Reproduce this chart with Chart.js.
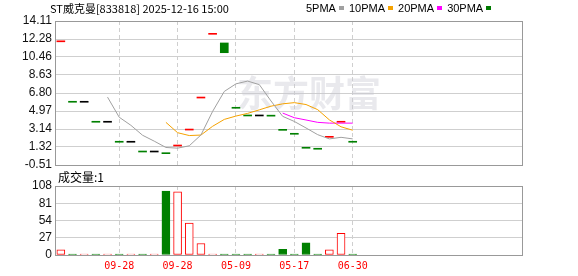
<!DOCTYPE html>
<html>
<head>
<meta charset="utf-8">
<script src="https://cdn.jsdelivr.net/npm/chart.js@4/dist/chart.umd.min.js"></script>
<style>
html, body { margin: 0; padding: 0; background: #fff; }
#wrap { position: relative; width: 578px; height: 276px; overflow: hidden; }
#wrap canvas { position: absolute; left: 0; top: 0; }
.txt { position: absolute; white-space: nowrap; font-family: "Liberation Sans Narrow", "Noto Sans CJK SC", sans-serif; font-size: 11px; line-height: 16px; color: #000; }
#legend { position: absolute; left: 306px; top: 0; display: flex; align-items: center; height: 16px; }
#legend .item { display: flex; align-items: center; margin-right: 5px; font-family: "Liberation Sans Narrow", sans-serif; font-size: 11px; }
#legend .sw { display: inline-block; width: 5px; height: 4px; margin-left: 3px; }
</style>
</head>
<body>
<div id="wrap">
  <canvas id="price" width="578" height="276"></canvas>
  <canvas id="vol" width="578" height="276"></canvas>
  <div class="txt" style="left:50px; top:0px;">ST威克曼[833818] 2025-12-16 15:00</div>
  <div id="legend"></div>
  <div class="txt" style="left:58px; top:169px; font-family:'Noto Sans CJK SC',sans-serif; font-size:12px;">成交量:1</div>
</div>
<script>
// 40 slots on the x axis, 26 trading days drawn
const xSlots = Array.from({length: 40}, (_, i) => String(i));

const opens  = [12.10, 5.96, 5.96, 3.93, 3.93, 1.90, 1.90, 0.91, 0.91, 0.74, 1.52, 3.14, 6.39, 12.86, 11.88, 5.35, 4.57, 4.57, 4.55, 3.11, 2.71, 1.29, 1.19, 2.40, 3.93, 1.90];
const closes = [12.10, 5.96, 5.96, 3.93, 3.93, 1.90, 1.90, 0.91, 0.91, 0.74, 1.52, 3.14, 6.39, 12.86, 10.89, 5.35, 4.57, 4.57, 4.55, 3.11, 2.71, 1.29, 1.19, 2.40, 3.93, 1.90];
const volumes = [8, 1, 1, 1, 1, 1, 1, 1, 1, 100, 99, 50, 18, 1, 1, 1, 1, 1, 1, 9, 1, 19, 1, 8, 34, 1];

const ma5  = [null, null, null, null, 6.38, 4.34, 3.52, 2.51, 1.91, 1.27, 1.20, 1.44, 2.54, 4.93, 6.96, 7.73, 8.01, 7.65, 5.99, 4.43, 3.91, 3.25, 2.57, 2.14, 2.30, 2.14];
const ma10 = [null, null, null, null, null, null, null, null, null, 3.82, 2.77, 2.48, 2.53, 3.42, 4.12, 4.46, 4.73, 5.09, 5.46, 5.70, 5.82, 5.63, 5.11, 4.07, 3.37, 3.02];
const ma20 = [null, null, null, null, null, null, null, null, null, null, null, null, null, null, null, null, null, null, null, 4.76, 4.29, 4.06, 3.82, 3.74, 3.74, 3.74];

const priceTicks = [-0.51, 1.32, 3.14, 4.97, 6.80, 8.63, 10.46, 12.28, 14.11];
const volTicks = [0, 27, 54, 81, 108];
const dateTickIndex = [5, 10, 15, 20, 25];
const dateTickText = ['09-28', '09-28', '05-09', '05-17', '06-30'];

const legendNames = ['5PMA', '10PMA', '20PMA', '30PMA'];
const legendColors = ['#a0a0a0', '#f5a200', '#ff00ff', '#007a00'];

const RED = '#ff0000';
const GREEN = '#008000';

// candle colour: up red, down green, flat vs previous close black
const candleColors = closes.map((c, i) => {
    if (c > opens[i]) return RED;
    if (c < opens[i]) return GREEN;
    if (i === 0) return RED;
    if (c > closes[i - 1]) return RED;
    if (c < closes[i - 1]) return GREEN;
    return '#000';
});

const legendEl = document.getElementById('legend');
legendNames.forEach((n, i) => {
    const it = document.createElement('span');
    it.className = 'item';
    it.innerHTML = n + '<span class="sw" style="background:' + legendColors[i] + '"></span>';
    legendEl.appendChild(it);
});

const frame = {
    id: 'frame',
    beforeDatasetsDraw(chart, args, opts) {
        const a = chart.chartArea;
        const ctx = chart.ctx;
        ctx.save();
        if (opts.watermark) {
            ctx.fillStyle = 'rgba(200,200,210,0.4)';
            ctx.font = 'bold 36px "Noto Sans CJK SC"';
            ctx.textBaseline = 'middle';
            ctx.fillText(opts.watermark, a.left + 182, a.top + 72);
        }
        ctx.strokeStyle = '#999';
        ctx.lineWidth = 1;
        ctx.strokeRect(Math.round(a.left) + 0.5, Math.round(a.top) + 0.5,
            Math.round(a.right - a.left), Math.round(a.bottom - a.top));
        ctx.restore();
    }
};

const gridColor = '#cfcfcf';
const tickFont = {family: '"Liberation Sans", Arial, sans-serif', size: 12};

function xScale(showLabels) {
    return {
        type: 'category',
        offset: true,
        grid: {
            offset: false,
            drawTicks: false,
            color: c => dateTickIndex.includes(c.index) ? gridColor : 'rgba(0,0,0,0)'
        },
        border: {display: false, dash: [4, 3]},
        ticks: {
            display: showLabels,
            autoSkip: false,
            maxRotation: 0,
            padding: 5,
            color: RED,
            font: {family: '"DejaVu Sans Mono", monospace', size: 10},
            callback: (v, i) => {
                const k = dateTickIndex.indexOf(i);
                return k >= 0 ? dateTickText[k] : '';
            }
        },
        afterFit: s => { s.height = showLabels ? 21 : 0; }
    };
}

function yScale(min, max, ticks, fmt) {
    return {
        min: min,
        max: max,
        grid: {color: gridColor, drawTicks: false},
        border: {display: false},
        ticks: {color: '#111', font: tickFont, padding: 3, autoSkip: false, callback: fmt},
        afterBuildTicks: s => { s.ticks = ticks.map(v => ({value: v})); },
        afterFit: s => { s.width = 55; }
    };
}

new Chart(document.getElementById('price'), {
    type: 'bar',
    data: {
        labels: xSlots,
        datasets: [
            {
                type: 'line', data: ma5, borderColor: legendColors[0], borderWidth: 1,
                pointRadius: 0, tension: 0, fill: false
            },
            {
                type: 'line', data: ma10, borderColor: legendColors[1], borderWidth: 1,
                pointRadius: 0, tension: 0, fill: false
            },
            {
                type: 'line', data: ma20, borderColor: legendColors[2], borderWidth: 1,
                pointRadius: 0, tension: 0, fill: false
            },
            {
                type: 'bar',
                data: opens.map((o, i) => [o, closes[i]]),
                backgroundColor: candleColors,
                borderWidth: 0,
                barThickness: 8,
                minBarLength: 1
            }
        ]
    },
    options: {
        responsive: false,
        devicePixelRatio: 1,
        animation: false,
        layout: {padding: {top: 21, right: 56, bottom: 111, left: 0}},
        plugins: {legend: {display: false}, tooltip: {enabled: false}, frame: {watermark: '东方财富'}},
        scales: {
            x: xScale(false),
            y: yScale(-0.51, 14.11, priceTicks, v => v.toFixed(2))
        }
    },
    plugins: [frame]
});

new Chart(document.getElementById('vol'), {
    type: 'bar',
    data: {
        labels: xSlots,
        datasets: [{
            data: volumes,
            backgroundColor: candleColors.map(c => c === GREEN ? GREEN : '#fff'),
            borderColor: candleColors.map(c => c === GREEN ? GREEN : RED),
            borderWidth: 1,
            borderSkipped: false,
            barThickness: 8,
            minBarLength: 1
        }]
    },
    options: {
        responsive: false,
        devicePixelRatio: 1,
        animation: false,
        layout: {padding: {top: 186, right: 56, bottom: 0, left: 0}},
        plugins: {legend: {display: false}, tooltip: {enabled: false}, frame: {}},
        scales: {
            x: xScale(true),
            y: yScale(0, 108, volTicks, v => String(v))
        }
    },
    plugins: [frame]
});
</script>
</body>
</html>
